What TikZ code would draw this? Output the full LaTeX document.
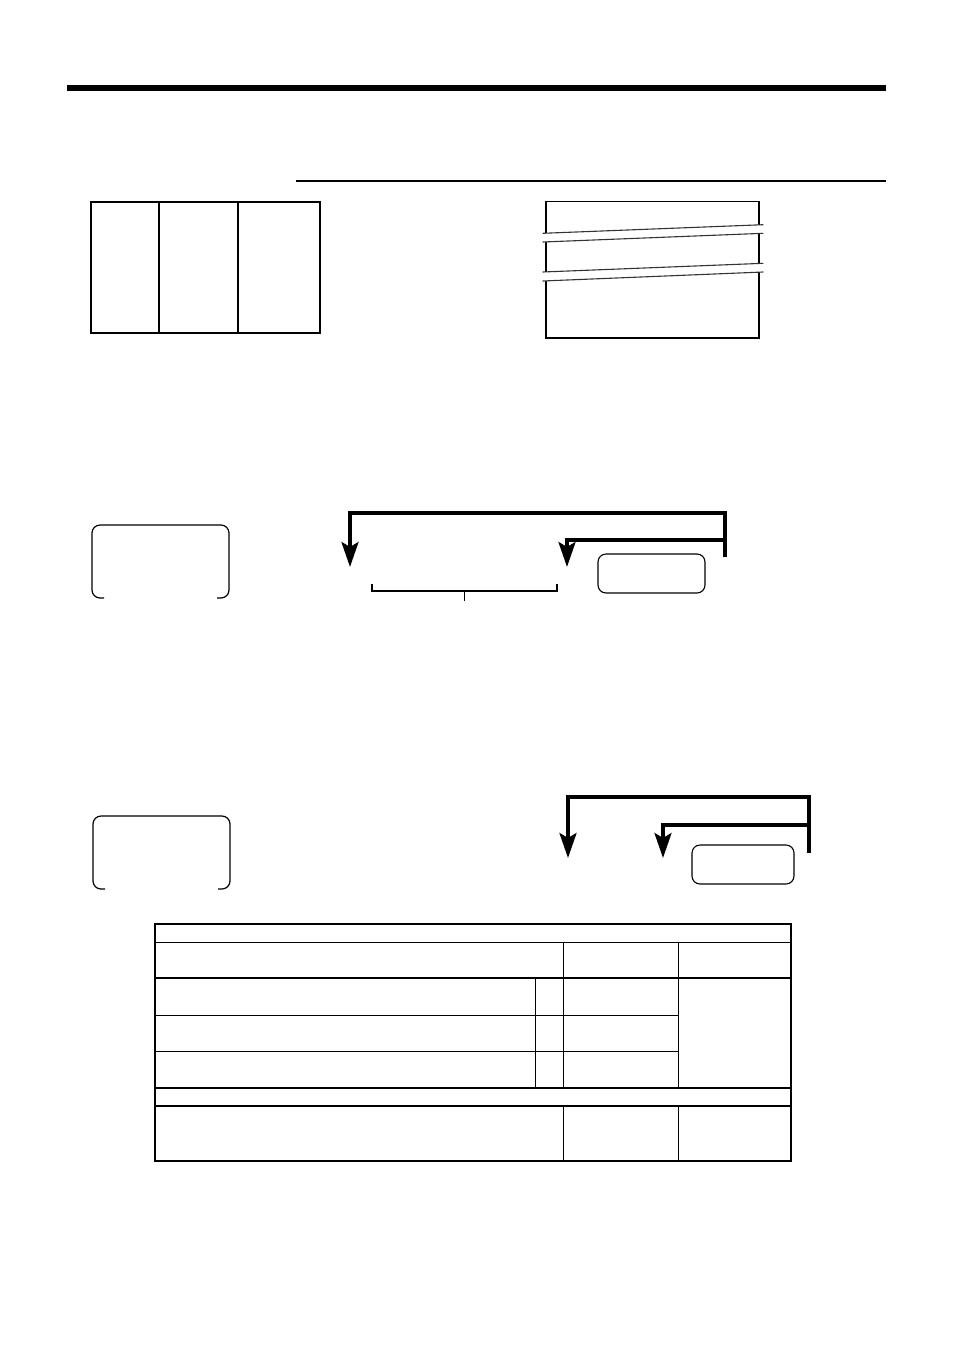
\documentclass[tikz,border=0pt]{standalone}
\usetikzlibrary{arrows.meta}
\begin{document}
\begin{tikzpicture}[x=1pt,y=-1pt,
  flow/.style={line width=3.4pt},
  arr/.style={flow,-{Stealth[length=25pt,width=17pt,inset=5pt]}},
  keybox/.style={draw,line width=1.1pt,rounded corners=8pt,minimum width=#1,minimum height=39pt,inner sep=0pt},
  openbox/.style={line width=1.2pt,rounded corners=8pt},
  thin/.style={line width=0.9pt},
  thick/.style={line width=2.4pt},
  frame/.style={line width=1.4pt}]
\useasboundingbox (0,0) rectangle (954,1350);
% header rules
\draw[line width=6pt] (67,88) -- (886,88);
\draw[line width=1.3pt] (296,181) -- (886,181);
% left three-column box
\draw[line width=1.3pt] (91,202) -- (91,333) -- (320,333) -- (320,202);
\draw[line width=2.2pt] (90.3,202) -- (320.7,202);
\draw[line width=1.3pt] (159,202) -- (159,333);
\draw[line width=1.3pt] (238,202) -- (238,333);
% right broken box
\begin{scope}[line width=1.1pt]
\draw (546,233.3) -- (546,201.7) -- (759,201.7) -- (759,225);
\draw (546,242) -- (546,272);
\draw (759,233.3) -- (759,263.3);
\draw (546,281) -- (546,338) -- (759,338) -- (759,272);
\end{scope}
\begin{scope}[line width=1.1pt,black!80]
\draw (542.7,233.3) -- (763.3,224.7);
\draw (542.7,242) -- (763.3,233.3);
\draw (542.7,272) -- (763.3,263.3);
\draw (542.7,281) -- (763.3,272);
\end{scope}
% flow 1
\draw[openbox] (104,598) -- (92,598) -- (92,525) -- (229,525) -- (229,598) -- (217,598);
\coordinate (a1end) at (725,557);
\coordinate (a1corner) at (725,513);
\coordinate (a1tip) at (350,567);
\coordinate (a2tip) at (567,567);
\draw[arr] (a1end) -- (a1corner) -- (350,513) -- (a1tip);
\draw[arr] (725,540) -- (567,540) -- (a2tip);
\node[keybox=107pt] (k1) at (651.5,573.5) {};
\coordinate (brL) at (372,584);
\coordinate (brR) at (557,584);
\coordinate (brM) at (464.5,601);
\draw[line width=1.5pt] (brL) -- (372,591) -- (557,591) -- (brR);
\draw[line width=1.5pt] (464.5,591) -- (brM);
% flow 2
\draw[openbox] (105,889) -- (93,889) -- (93,816) -- (230,816) -- (230,889) -- (218,889);
\coordinate (b1end) at (809,853);
\coordinate (b1tip) at (568,858);
\coordinate (b2tip) at (663,858);
\draw[arr] (b1end) -- (809,797) -- (568,797) -- (b1tip);
\draw[arr] (809,825) -- (663,825) -- (b2tip);
\node[keybox=102pt] (k2) at (743,864.5) {};
% table
\draw[thin] (155,942) -- (791,942);
\draw[thin] (155,1015) -- (678,1015);
\draw[thin] (155,1051) -- (678,1051);
\draw[thin] (563,942) -- (563,1088);
\draw[thin] (678,942) -- (678,1088);
\draw[thin] (535,978) -- (535,1088);
\draw[thin] (563,1106) -- (563,1161);
\draw[thin] (678,1106) -- (678,1161);
\draw[thick] (155,978) -- (791,978);
\draw[thick] (155,1088) -- (791,1088);
\draw[thick] (155,1106) -- (791,1106);
\draw[frame] (155,924) rectangle (791,1161);
\end{tikzpicture}
\end{document}
